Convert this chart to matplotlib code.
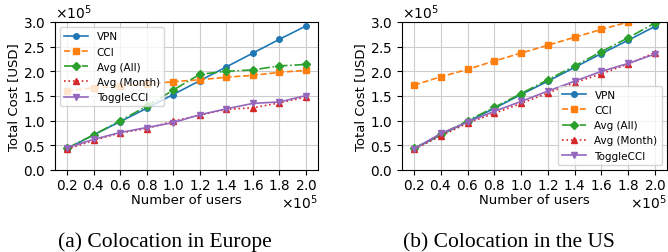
import matplotlib.pyplot as plt

USERS = [20000, 40000, 60000, 80000, 100000, 120000, 140000, 160000, 180000, 200000]

# Europe (values in USD)
EU_VPN = [0.43e5, 0.71e5, 0.98e5, 1.25e5, 1.53e5, 1.81e5, 2.09e5, 2.37e5, 2.65e5, 2.92e5]
EU_CCI = [1.61e5, 1.66e5, 1.70e5, 1.74e5, 1.79e5, 1.83e5, 1.88e5, 1.92e5, 1.98e5, 2.02e5]
EU_AVG_ALL = [0.44e5, 0.71e5, 1.00e5, 1.29e5, 1.62e5, 1.94e5, 2.00e5, 2.03e5, 2.11e5, 2.14e5]
EU_AVG_MONTH = [0.42e5, 0.60e5, 0.75e5, 0.84e5, 0.99e5, 1.11e5, 1.23e5, 1.26e5, 1.36e5, 1.48e5]
EU_TOGGLE = [0.45e5, 0.62e5, 0.76e5, 0.86e5, 0.96e5, 1.12e5, 1.24e5, 1.35e5, 1.38e5, 1.51e5]

# US
US_VPN = [0.43e5, 0.71e5, 0.98e5, 1.25e5, 1.53e5, 1.80e5, 2.08e5, 2.36e5, 2.63e5, 2.91e5]
US_CCI = [1.72e5, 1.89e5, 2.04e5, 2.21e5, 2.37e5, 2.53e5, 2.69e5, 2.85e5, 3.00e5, 3.16e5]
US_AVG_ALL = [0.44e5, 0.72e5, 1.00e5, 1.27e5, 1.55e5, 1.83e5, 2.11e5, 2.40e5, 2.68e5, 2.98e5]
US_AVG_MONTH = [0.42e5, 0.69e5, 0.95e5, 1.15e5, 1.35e5, 1.56e5, 1.77e5, 1.95e5, 2.15e5, 2.38e5]
US_TOGGLE = [0.43e5, 0.74e5, 0.97e5, 1.19e5, 1.39e5, 1.60e5, 1.80e5, 2.00e5, 2.16e5, 2.35e5]

LABELS = ['VPN', 'CCI', 'Avg (All)', 'Avg (Month)', 'ToggleCCI']
CAPTIONS = ['(a) Colocation in Europe', '(b) Colocation in the US']

plt.rcParams['font.family'] = 'DejaVu Sans'

fig = plt.figure(figsize=(6.68, 2.53), dpi=100)
ax1 = fig.add_axes([55 / 668, 1 - 171 / 253, 263 / 668, 148 / 253])
ax2 = fig.add_axes([402 / 668, 1 - 171 / 253, 265 / 668, 148 / 253])


def draw(ax, series, loc):
    styles = [
        ('o', '-', 'tab:blue'),
        ('s', '--', 'tab:orange'),
        ('D', '-.', 'tab:green'),
        ('^', ':', 'tab:red'),
        ('v', '-', 'tab:purple'),
    ]
    for ys, lab, (m, ls, c) in zip(series, LABELS, styles):
        ax.plot(USERS, ys, marker=m, ls=ls, color=c, label=lab,
                markersize=4, linewidth=1.2)
    ax.set_ylim(0, 3.0e5)
    ax.set_xticks(USERS)
    ax.set_yticks([0, 0.5e5, 1.0e5, 1.5e5, 2.0e5, 2.5e5, 3.0e5])
    ax.ticklabel_format(style='sci', scilimits=(0, 0), useMathText=True)
    ax.grid(True, color='#cccccc', linewidth=0.8)
    ax.tick_params(labelsize=9.8)
    ax.tick_params(axis='x', pad=2)
    ax.xaxis.get_offset_text().set_fontsize(10)
    ax.yaxis.get_offset_text().set_fontsize(10)
    # pull the x10^5 up a little so it sits beside the x label
    ax.xaxis.OFFSETTEXTPAD = 0.5
    ax.set_xlabel('Number of users', fontsize=9.5, labelpad=1)
    ax.set_ylabel('Total Cost [USD]', fontsize=9.5, labelpad=2)
    ax.legend(loc=loc, fontsize=7.5, framealpha=0.8, handlelength=2.3)


draw(ax1, [EU_VPN, EU_CCI, EU_AVG_ALL, EU_AVG_MONTH, EU_TOGGLE], 'upper left')
draw(ax2, [US_VPN, US_CCI, US_AVG_ALL, US_AVG_MONTH, US_TOGGLE], 'lower right')

fig.text(165 / 668, 1 - 247 / 253, CAPTIONS[0], ha='center', va='baseline',
         fontsize=15.5, family='Liberation Serif')
fig.text(509 / 668, 1 - 247 / 253, CAPTIONS[1], ha='center', va='baseline',
         fontsize=15.5, family='Liberation Serif')

fig.savefig('out.png', dpi=100)
